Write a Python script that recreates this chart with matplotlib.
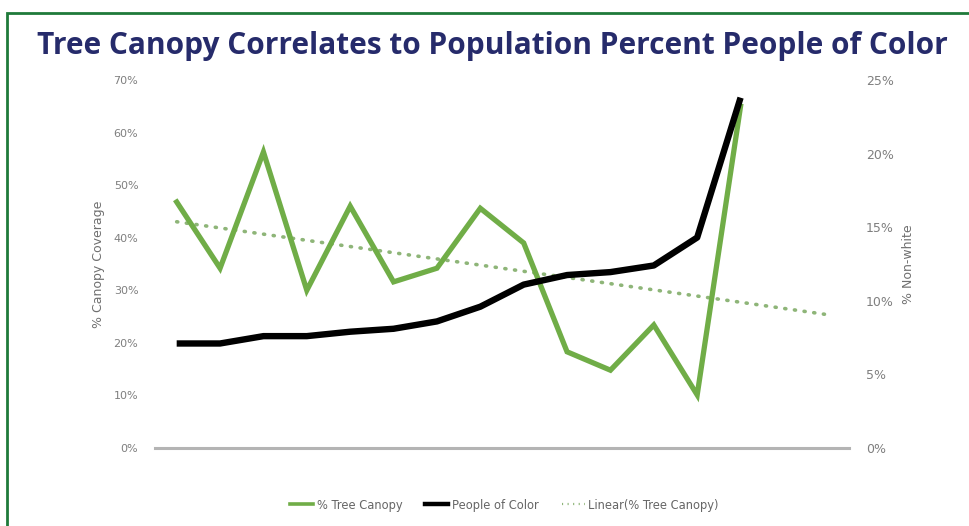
import numpy as np
import matplotlib.pyplot as plt
from matplotlib.patches import Rectangle
from matplotlib.ticker import FuncFormatter

# values (14 neighbourhoods, left to right)
canopy = [46.8, 34.2, 56.3, 30.0, 46.0, 31.6, 34.2, 45.6, 39.0, 18.3, 14.8, 23.4, 10.1, 65.0]
non_white = [7.1, 7.1, 7.6, 7.6, 7.9, 8.1, 8.6, 9.6, 11.1, 11.75, 11.95, 12.4, 14.3, 23.8]
forecast = 2  # trend line carried forward two periods

green = '#70ad47'
navy = '#262b6b'
tick_c = '#7f7f7f'

x = np.arange(len(canopy))
coef = np.polyfit(x, canopy, 1)
xt = np.arange(len(canopy) + forecast)
trend = np.polyval(coef, xt)

fig = plt.figure(figsize=(9.7, 5.26), dpi=100)
ax = fig.add_axes([155/970, 1 - 448/526, 694/970, 368/526])
ax2 = ax.twinx()

ax.plot(x, canopy, color=green, linewidth=3.8, solid_joinstyle='miter', zorder=3)
ax.plot(xt, trend, color='#7aa860', linestyle=(0, (0.3, 2.4)), linewidth=2.6,
        dash_capstyle='round', alpha=0.85, zorder=2)
ax2.plot(x, non_white, color='black', linewidth=4.6, solid_capstyle='butt', zorder=3)

ax.set_xlim(-0.5, len(xt) - 0.5)
ax.set_ylim(0, 70)
ax2.set_ylim(0, 25)
ax.set_yticks(np.arange(0, 71, 10))
ax2.set_yticks(np.arange(0, 26, 5))
pct = FuncFormatter(lambda v, p: f'{v:.0f}%')
ax.yaxis.set_major_formatter(pct)
ax2.yaxis.set_major_formatter(pct)
ax.set_xticks([])

for a in (ax, ax2):
    for s in a.spines.values():
        s.set_visible(False)
    a.tick_params(axis='y', length=0, labelsize=8, labelcolor=tick_c)
ax.tick_params(axis='y', pad=12)
ax2.tick_params(axis='y', pad=12, labelsize=9)
ax.axhline(0, color='#b4b4b4', linewidth=2.2, clip_on=False, zorder=1)

ax.set_ylabel('% Canopy Coverage', fontsize=9, color='#6f6f6f', labelpad=6)
ax2.set_ylabel('% Non-white', fontsize=9, color='#6f6f6f', labelpad=6)

fig.text(0.508, 1 - 46/526, 'Tree Canopy Correlates to Population Percent People of Color',
         ha='center', va='center', fontsize=21.5, fontweight='bold', color=navy,
         family='Open Sans')

# legend
h1, = ax.plot([], [], color=green, linewidth=2.6)
h2, = ax.plot([], [], color='black', linewidth=3.2)
h3, = ax.plot([], [], color='#7aa860', linestyle=(0, (0.5, 2)), linewidth=1.6, alpha=0.85)
fig.legend([h1, h2, h3], ['% Tree Canopy', 'People of Color', 'Linear(% Tree Canopy)'],
           loc='center', bbox_to_anchor=(0.52, 1 - 505/526), ncol=3, frameon=False,
           fontsize=8.3, handlelength=2.0, handletextpad=0.3, columnspacing=2.0,
           labelcolor='#666666')

# green frame
fig.add_artist(Rectangle((7/970, -0.02), 1.05, 1 - 13/526 + 0.02, transform=fig.transFigure,
                         fill=False, edgecolor='#1f7a3a', linewidth=2))

fig.savefig('out.png', dpi=100)
